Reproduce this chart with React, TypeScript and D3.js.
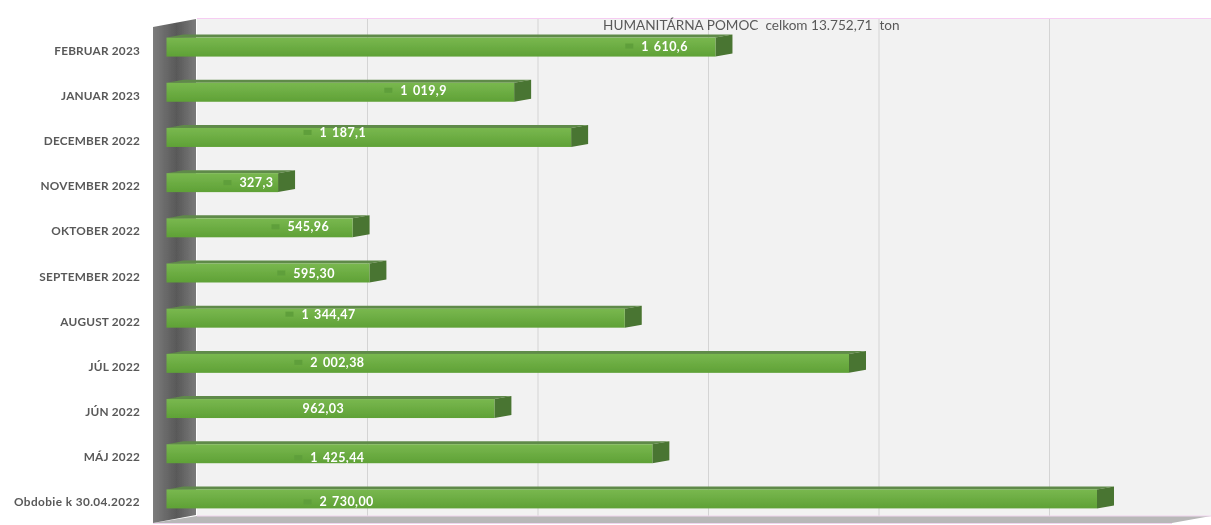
import React from "react";
import * as d3 from "d3";

const categories = ["FEBRUAR 2023","JANUAR 2023","DECEMBER 2022","NOVEMBER 2022","OKTOBER 2022","SEPTEMBER 2022","AUGUST 2022","JÚL 2022","JÚN 2022","MÁJ 2022","Obdobie k 30.04.2022"];
const values = [1610.6,1019.9,1187.1,327.3,545.96,595.3,1344.47,2002.38,962.03,1425.44,2730];
const valueLabels = ["1 610,6","1 019,9","1 187,1","327,3","545,96","595,30","1 344,47","2 002,38","962,03","1 425,44","2 730,00"];
// where each hand-placed data label starts, in axis units and px off the bar centre
const labelAt = [1393,686,449,214,355,372,396,422,399,422,449];
const labelDy = [-1,-2,-5,0,-1,0,-4,-1,0,4,3];
const labelHasKey = [true,true,true,true,true,true,true,true,false,true,true];
const gridTicks = [0,500,1000,1500,2000,2500,3000];
const title = "HUMANITÁRNA POMOC  celkom 13.752,71  ton";

const W = 1211, H = 525;
const x = d3.scaleLinear().domain([0, 2730]).range([166.5, 1097]);
const y = d3.scaleBand<string>().domain(categories).range([24.5, 521.5]).paddingInner(0.58).paddingOuter(0.29);
const depthX = 17, depthY = 3;
const wallX = 197;
const gridX = d3.scaleLinear().domain([0, 500]).range([wallX, wallX + 170.5]);
const font = "Lato, 'Open Sans', sans-serif";
const pts = (p: number[][]) => p.map(a => a.join(",")).join(" ");

export default function App() {
  const h = y.bandwidth();
  return (
    <svg width={W} height={H} viewBox={`0 0 ${W} ${H}`} style={{ position: "fixed", left: 0, top: 0, display: "block", background: "#fff" }}>
      <defs>
        <linearGradient id="front" x1="0" y1="0" x2="0" y2="1">
          <stop offset="0" stopColor="#79b84f" />
          <stop offset="1" stopColor="#5fa136" />
        </linearGradient>
        <linearGradient id="wall" x1="0" y1="0" x2="1" y2="0">
          <stop offset="0" stopColor="#7c7c7c" />
          <stop offset="0.55" stopColor="#595959" />
          <stop offset="1" stopColor="#7a7a7a" />
        </linearGradient>
        <filter id="soft" x="-2%" y="-2%" width="104%" height="104%"><feGaussianBlur stdDeviation="0.6" /></filter>
      </defs>
      <g filter="url(#soft)">
        <rect x={wallX} y={19} width={W - wallX} height={497} fill="#f2f2f2" />
        <line x1={wallX} x2={W} y1={18.5} y2={18.5} stroke="#f6cdf2" />
        {gridTicks.slice(1, 6).map(t => (
          <line key={t} x1={gridX(t)} x2={gridX(t)} y1={19} y2={516} stroke="#d4d4d4" />
        ))}
        <polygon points={pts([[153, 523], [wallX, 516], [W, 516], [1172, 523]])} fill="#b8b8b8" />
        <line x1={153} x2={1172} y1={523.5} y2={523.5} stroke="#f0d5ee" />
        <line x1={wallX} x2={W} y1={516} y2={516} stroke="#f0d5ee" />
        <polygon points={pts([[153, 27], [wallX - 1, 19], [wallX - 1, 515], [153, 523]])} fill="url(#wall)" />
        {categories.map((c, i) => {
          const top = y(c)!;
          const x1 = x(values[i]);
          return (
            <g key={c}>
              <polygon points={pts([[x(0), top], [x(0) + depthX, top - depthY], [x1 + depthX, top - depthY], [x1, top]])} fill="#5f8a48" />
              <polygon points={pts([[x1, top], [x1 + depthX, top - depthY], [x1 + depthX, top + h - depthY], [x1, top + h]])} fill="#4a7430" />
              <rect x={x(0)} y={top} width={x1 - x(0)} height={h} fill="url(#front)" />
            </g>
          );
        })}
        {categories.map((c, i) => {
          const cy = y(c)! + h / 2;
          return (
            <g key={c}>
              <text x={140} y={cy + 7.5} textAnchor="end" fontFamily={font} fontSize={11.8} letterSpacing={c.startsWith("Obdobie") ? 0.4 : 0.2} fontWeight={700} fill="#595959">{c}</text>
              {labelHasKey[i] && <rect x={x(labelAt[i]) - 16} y={cy + labelDy[i] - 2.5} width={8} height={5} fill="#5f9f3a" />}
              <text x={x(labelAt[i])} y={cy + labelDy[i] + 4.5} fontFamily={font} fontSize={12.5} letterSpacing={0.4} wordSpacing={1.5} fontWeight={700} fill="#fff">{valueLabels[i]}</text>
            </g>
          );
        })}
        <text x={603} y={30} fontFamily={font} fontSize={13.6} fill="#595959" xmlSpace="preserve">{title}</text>
      </g>
    </svg>
  );
}
